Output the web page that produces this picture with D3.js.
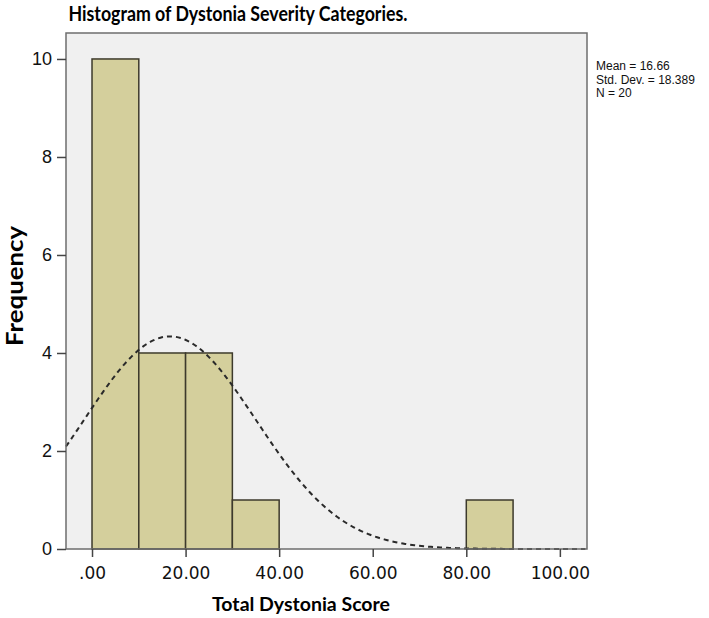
<!DOCTYPE html>
<html>
<head>
<meta charset="utf-8">
<script src="https://cdn.jsdelivr.net/npm/d3@7"></script>
<style>
  body { margin: 0; background: #fff; }
  svg { display: block; }
  .tick text { fill: #111; }
</style>
</head>
<body>
<svg width="709" height="618"></svg>
<script>
// histogram bins (lower edge, upper edge, count)
const binStart = [0, 10, 20, 30, 80];
const binEnd = [10, 20, 30, 40, 90];
const counts = [10, 4, 4, 1, 1];

const xTicks = [0, 20, 40, 60, 80, 100];
const yTicks = [0, 2, 4, 6, 8, 10];

const stats = { mean: 16.66, sd: 18.389, n: 20 };
const binWidth = 10;

const svg = d3.select("svg");

const plot = { left: 66, right: 587, top: 33, bottom: 549 };

const x = d3.scaleLinear()
  .domain([-5.56, 105.8])
  .range([plot.left, plot.right]);

const y = d3.scaleLinear()
  .domain([0, 10.53])
  .range([plot.bottom, plot.top]);

// plot background
svg.append("rect")
  .attr("x", plot.left)
  .attr("y", plot.top)
  .attr("width", plot.right - plot.left)
  .attr("height", plot.bottom - plot.top)
  .attr("fill", "#f0f0f0");

// bars
const bins = binStart.map((s, i) => ({ x0: s, x1: binEnd[i], count: counts[i] }));

svg.selectAll(".bar")
  .data(bins)
  .enter()
  .append("rect")
  .attr("class", "bar")
  .attr("x", d => x(d.x0))
  .attr("y", d => y(d.count))
  .attr("width", d => x(d.x1) - x(d.x0))
  .attr("height", d => y(0) - y(d.count))
  .attr("fill", "#d4cf9c")
  .attr("stroke", "#3d3a2c")
  .attr("stroke-width", 1.5);

// normal curve from the shown mean, sd and N
const scaleN = stats.n * binWidth / (stats.sd * Math.sqrt(2 * Math.PI));
const curvePts = d3.range(x.domain()[0], x.domain()[1] + 0.01, 0.5).map(v => {
  const z = (v - stats.mean) / stats.sd;
  return [v, scaleN * Math.exp(-0.5 * z * z)];
});

svg.append("path")
  .datum(curvePts)
  .attr("fill", "none")
  .attr("stroke", "#2a2a2a")
  .attr("stroke-width", 2)
  .attr("stroke-dasharray", "5,4")
  .attr("d", d3.line().x(d => x(d[0])).y(d => y(d[1])));

// frame
svg.append("rect")
  .attr("x", plot.left)
  .attr("y", plot.top)
  .attr("width", plot.right - plot.left)
  .attr("height", plot.bottom - plot.top)
  .attr("fill", "none")
  .attr("stroke", "#6e6e6e")
  .attr("stroke-width", 1.5);

// axes
const fmtX = v => d3.format(".2f")(v).replace(/^0\./, ".");

const xAxis = svg.append("g")
  .attr("transform", `translate(0,${plot.bottom})`)
  .call(d3.axisBottom(x).tickValues(xTicks).tickFormat(fmtX).tickSize(8).tickPadding(10));
xAxis.select(".domain").remove();
xAxis.selectAll("line").attr("stroke", "#444").attr("stroke-width", 1.5);
xAxis.selectAll("text")
  .style("font-family", "'DejaVu Sans', sans-serif")
  .style("font-size", "17px");

const yAxis = svg.append("g")
  .attr("transform", `translate(${plot.left},0)`)
  .call(d3.axisLeft(y).tickValues(yTicks).tickSize(9).tickPadding(5));
yAxis.select(".domain").remove();
yAxis.selectAll("line").attr("stroke", "#444").attr("stroke-width", 1.5);
yAxis.selectAll("text")
  .style("font-family", "'Liberation Sans', Arial, sans-serif")
  .style("font-size", "18px");

// titles
svg.append("text")
  .attr("x", 238)
  .attr("y", 21)
  .attr("text-anchor", "middle")
  .attr("textLength", 339)
  .attr("lengthAdjust", "spacingAndGlyphs")
  .style("font-family", "Lato, 'Open Sans', sans-serif")
  .style("font-weight", "bold")
  .style("font-size", "20.5px")
  .text("Histogram of Dystonia Severity Categories.");

svg.append("text")
  .attr("x", 301)
  .attr("y", 611)
  .attr("text-anchor", "middle")
  .style("font-family", "Lato, 'Open Sans', sans-serif")
  .style("font-weight", "bold")
  .style("font-size", "19.5px")
  .text("Total Dystonia Score");

svg.append("text")
  .attr("transform", "translate(23,286) rotate(-90)")
  .attr("text-anchor", "middle")
  .attr("textLength", 120)
  .attr("lengthAdjust", "spacingAndGlyphs")
  .style("font-family", "Lato, 'Open Sans', sans-serif")
  .style("font-weight", "bold")
  .style("font-size", "23px")
  .text("Frequency");

// stats legend
const legendLines = [
  `Mean = ${stats.mean}`,
  `Std. Dev. = ${stats.sd}`,
  `N = ${stats.n}`
];
svg.selectAll(".legend")
  .data(legendLines)
  .enter()
  .append("text")
  .attr("class", "legend")
  .attr("x", 596)
  .attr("y", (d, i) => 70 + i * 13.5)
  .style("font-family", "'Liberation Sans', Arial, sans-serif")
  .style("font-size", "12px")
  .attr("fill", "#111")
  .text(d => d);
</script>
</body>
</html>
